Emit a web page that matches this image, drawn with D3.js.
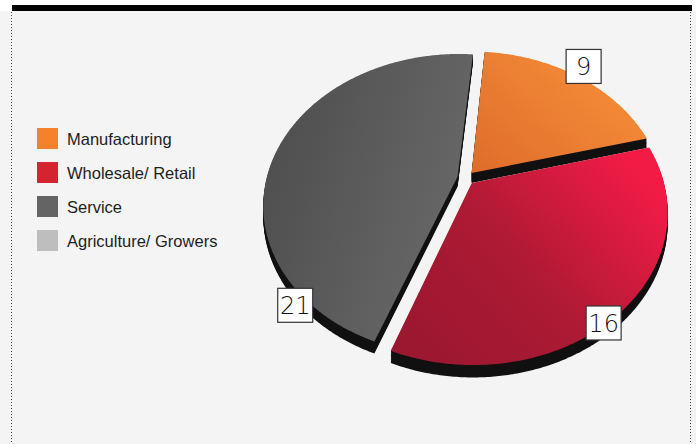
<!DOCTYPE html>
<html>
<head>
<meta charset="utf-8">
<script src="https://cdn.jsdelivr.net/npm/d3@7"></script>
<style>
  body { margin: 0; background: #ffffff; }
  svg { display: block; }
</style>
</head>
<body>
<div id="chart"></div>
<script>
// chart data
var categories = ["Manufacturing", "Wholesale/ Retail", "Service", "Agriculture/ Growers"];
var values = [9, 16, 21, 0];
var legendColors = ["#f5822a", "#d3242f", "#636466", "#bdbebf"];
var faceColors = [["#de6c2a", "#f8903a"], ["#9c1730", "#f21b46"], ["#4e4e4e", "#6a6a6a"], ["#bdbebf", "#d0d0d0"]];

var width = 696, height = 444;

var svg = d3.select("#chart").append("svg")
    .attr("width", width)
    .attr("height", height);

// background panel + top rule
svg.append("rect").attr("x", 0).attr("y", 11).attr("width", width).attr("height", height - 11).attr("fill", "#f3f4f3");
svg.append("rect").attr("x", 12).attr("y", 5).attr("width", 680).attr("height", 6).attr("fill", "#000");
[11.5, 690.5].forEach(function(x){
    svg.append("line")
        .attr("x1", x).attr("x2", x).attr("y1", 12).attr("y2", height)
        .attr("stroke", "#444").attr("stroke-width", 1)
        .attr("stroke-dasharray", "1,2");
});

// legend
var color = d3.scaleOrdinal().domain(categories).range(legendColors);
var legend = svg.append("g").attr("transform", "translate(37,128)");
var item = legend.selectAll("g").data(categories).enter().append("g")
    .attr("transform", function(d, i){ return "translate(0," + (i * 34) + ")"; });
item.append("rect").attr("width", 21).attr("height", 21).attr("fill", function(d){ return color(d); });
item.append("text")
    .attr("x", 30).attr("y", 16.5)
    .style("font-family", "'Liberation Sans', Arial, sans-serif")
    .style("font-size", "16.5px")
    .style("fill", "#1e1e1e")
    .text(function(d){ return d; });

// tilted pie with perspective
var cx = 466, cy = 178, A = 191, B = 146, T = 0.187, depth = 10, explode = 0.045;
function proj(u, v, h) {
    var w = 1 / (1 - T * v);
    return [cx + A * u * w, cy + B * v * w + h * depth * w];
}

var pie = d3.pie().sort(null)
    .startAngle(5 * Math.PI / 180)
    .endAngle(5 * Math.PI / 180 + 2 * Math.PI)
    .value(function(d){ return d; });

var arcs = pie(values).map(function(a, i){ a.index = i; return a; })
    .filter(function(a){ return a.value > 0; });

var defs = svg.append("defs");
var gradDir = {0: [0, 1, 1, 0.2], 1: [0.1, 0.9, 1, 0.25], 2: [0, 0.3, 1, 0.7]};
var gradMid = {1: ["45%", "#ad1a33"]};
arcs.forEach(function(a){
    var d = gradDir[a.index];
    var g = defs.append("linearGradient").attr("id", "grad" + a.index)
        .attr("x1", d[0]).attr("y1", d[1]).attr("x2", d[2]).attr("y2", d[3]);
    g.append("stop").attr("offset", "0%").attr("stop-color", faceColors[a.index][0]);
    if (gradMid[a.index]) {
        g.append("stop").attr("offset", gradMid[a.index][0]).attr("stop-color", gradMid[a.index][1]);
    }
    g.append("stop").attr("offset", "100%").attr("stop-color", faceColors[a.index][1]);
});

function slicePoints(a, h) {
    var mid = (a.startAngle + a.endAngle) / 2;
    var ou = explode * Math.sin(mid), ov = -explode * Math.cos(mid);
    var pts = [proj(ou, ov, h)];
    var n = Math.max(8, Math.ceil((a.endAngle - a.startAngle) / 0.01));
    for (var k = 0; k <= n; k++) {
        var t = a.startAngle + (a.endAngle - a.startAngle) * k / n;
        pts.push(proj(ou + Math.sin(t), ov - Math.cos(t), h));
    }
    return pts;
}

var line = d3.line().curve(d3.curveLinearClosed);

// draw back to front: orange, gray, red
var order = [0, 2, 1];
var pieG = svg.append("g");
order.forEach(function(idx){
    var a = arcs.filter(function(d){ return d.index === idx; })[0];
    if (!a) return;
    var g = pieG.append("g");
    for (var h = 1; h > 0.05; h -= 0.1) {
        g.append("path").attr("d", line(slicePoints(a, h)))
            .attr("fill", "#111");
    }
    g.append("path").attr("d", line(slicePoints(a, 0)))
        .attr("fill", "url(#grad" + a.index + ")");
});

// value labels
var labelFrac = {0: 0.48, 1: 0.55, 2: 0.14};
var labelR = {0: 1.1, 1: 0.99, 2: 1.05};
arcs.forEach(function(a){
    var mid = (a.startAngle + a.endAngle) / 2;
    var ou = explode * Math.sin(mid), ov = -explode * Math.cos(mid);
    var t = a.startAngle + (a.endAngle - a.startAngle) * labelFrac[a.index];
    var r = labelR[a.index];
    var p = proj(ou + r * Math.sin(t), ov - r * Math.cos(t), 0);
    var lg = svg.append("g").attr("transform", "translate(" + p[0] + "," + p[1] + ")");
    lg.append("rect").attr("x", -17.5).attr("y", -17).attr("width", 35).attr("height", 34)
        .attr("fill", "#fff").attr("stroke", "#333").attr("stroke-width", 1.2);
    lg.append("text").attr("y", 9)
        .attr("text-anchor", "middle")
        .style("font-family", "'DejaVu Sans', sans-serif")
        .style("font-weight", "200")
        .style("font-size", "24px")
        .style("fill", "#111")
        .text(a.value);
});
</script>
</body>
</html>
